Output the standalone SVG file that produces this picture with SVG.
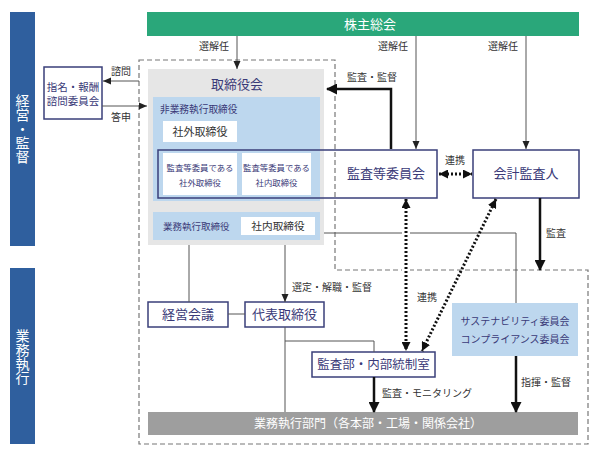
<svg xmlns="http://www.w3.org/2000/svg" width="600" height="455" viewBox="0 0 600 455">
<defs>
<style>
text{font-family:"Noto Sans CJK JP","Noto Sans",sans-serif;}
.lbl{font-size:10px;fill:#333;}
.node{font-size:13px;fill:#3a3a78;text-anchor:middle;}
.wt{fill:#fff;text-anchor:middle;}
.sm{font-size:10px;fill:#3a3a78;}
.thin{stroke:#555;stroke-width:1;fill:none;}
.thick{stroke:#111;stroke-width:2.5;fill:none;}
.dot{stroke:#111;stroke-width:3;stroke-dasharray:2 2;fill:none;}
.dash{stroke:#777;stroke-width:1.2;stroke-dasharray:5 3;fill:none;}
.box{fill:#fff;stroke:#3a3f7a;stroke-width:1.5;}
.wbox{fill:#fff;}
.lb{fill:#bdd7ee;}
</style>
<marker id="at" viewBox="0 0 8 8" refX="8" refY="4" markerWidth="8" markerHeight="8" markerUnits="userSpaceOnUse" orient="auto"><path d="M0,0.5 L8,4 L0,7.5z" fill="#222"/></marker>
<marker id="ak" viewBox="0 0 11 11" refX="10" refY="5.5" markerWidth="11" markerHeight="11" markerUnits="userSpaceOnUse" orient="auto"><path d="M0,0 L11,5.5 L0,11z" fill="#111"/></marker>
<marker id="ad" viewBox="0 0 9 9" refX="9" refY="4.5" markerWidth="9" markerHeight="9" markerUnits="userSpaceOnUse" orient="auto-start-reverse"><path d="M0,0 L9,4.5 L0,9z" fill="#111"/></marker>
</defs>
<rect width="600" height="455" fill="#fff"/>

<g id="side-management">
<rect x="10" y="12" width="25" height="234" fill="#2f5f9e"/>
<text x="22.5" y="129" class="wt" style="font-size:14px;writing-mode:vertical-rl">経営・監督</text>
</g>
<g id="side-execution">
<rect x="10" y="268" width="25" height="176" fill="#2f5f9e"/>
<text x="22.5" y="357" class="wt" style="font-size:14px;writing-mode:vertical-rl">業務執行</text>
</g>

<g id="shareholders">
<rect x="147" y="12" width="432" height="24" fill="#2aa77a"/>
<text x="370" y="29" class="wt" style="font-size:13px">株主総会</text>
</g>

<g id="board">
<rect x="148" y="69" width="176" height="176" fill="#e6e6e6"/>
<text x="237" y="89" class="node">取締役会</text>
<rect x="153" y="97" width="167" height="104" class="lb"/>
<text x="160" y="113" class="sm" style="font-size:9.7px">非業務執行取締役</text>
<rect x="163" y="121" width="74" height="21" class="wbox"/>
<text x="200" y="136" class="node" style="font-size:11px;fill:#333">社外取締役</text>
<rect x="163" y="153" width="74" height="42" class="wbox"/>
<text x="200" y="171" class="node" style="font-size:8.4px">監査等委員である</text>
<text x="200" y="186" class="node" style="font-size:8.4px">社外取締役</text>
<rect x="242" y="153" width="69" height="42" class="wbox"/>
<text x="276.5" y="171" class="node" style="font-size:8.4px">監査等委員である</text>
<text x="276.5" y="186" class="node" style="font-size:8.4px">社内取締役</text>
<rect x="153" y="212" width="167" height="28" class="lb"/>
<text x="163" y="230" class="sm" style="font-size:9.5px">業務執行取締役</text>
<rect x="241" y="217" width="74" height="18" class="wbox"/>
<text x="278" y="230" class="node" style="font-size:10.7px;fill:#333">社内取締役</text>
</g>

<g id="boundary">
<rect x="324" y="150" width="113" height="48" fill="#fff"/>
<path class="dash" d="M139,60 H335 V270 H588 V444 H139 Z"/>
</g>

<g id="audit-committee">
<rect x="158" y="150" width="279" height="48" fill="none" stroke="#3a3f7a" stroke-width="1.5"/>
<text x="386" y="178" class="node">監査等委員会</text>
</g>

<g id="accounting-auditor">
<rect x="473" y="150" width="106" height="48" class="box"/>
<text x="526" y="178" class="node">会計監査人</text>
</g>

<g id="nomination-committee">
<rect x="44" y="67" width="58" height="52" class="box"/>
<text x="73" y="91" class="node" style="font-size:10.5px">指名・報酬</text>
<text x="73" y="105" class="node" style="font-size:10.5px">諮問委員会</text>
</g>

<g id="management-meeting">
<rect x="148" y="302" width="80" height="25" class="box"/>
<text x="188" y="319" class="node">経営会議</text>
</g>

<g id="representative-director">
<rect x="245" y="302" width="79" height="25" class="box"/>
<text x="284.5" y="319" class="node">代表取締役</text>
</g>

<g id="internal-audit">
<rect x="312" y="352" width="123" height="25" class="box"/>
<text x="373.5" y="369" class="node" style="font-size:12.5px">監査部・内部統制室</text>
</g>

<g id="sustainability">
<rect x="452" y="303" width="126" height="53" class="lb"/>
<text x="515" y="325" class="node" style="font-size:10px">サステナビリティ委員会</text>
<text x="515" y="343" class="node" style="font-size:10px">コンプライアンス委員会</text>
</g>

<g id="business-divisions">
<rect x="148" y="412" width="430" height="23" fill="#9e9e9e"/>
<text x="368" y="428" class="wt" style="font-size:12px">業務執行部門（各本部・工場・関係会社）</text>
</g>

<g id="connectors">
<line class="thin" x1="237" y1="36" x2="237" y2="69" marker-end="url(#at)"/>
<line class="thin" x1="416" y1="36" x2="416" y2="149" marker-end="url(#at)"/>
<line class="thin" x1="526" y1="36" x2="526" y2="149" marker-end="url(#at)"/>
<polyline class="thick" points="391,149 391,89 327,89" marker-end="url(#ak)"/>
<line class="thin" x1="139" y1="81" x2="103" y2="81" marker-end="url(#at)"/>
<line class="thin" x1="102" y1="106" x2="147" y2="106" marker-end="url(#at)"/>
<polyline class="thin" points="324,233 516,233 516,303"/>
<line class="thin" x1="189" y1="245" x2="189" y2="302"/>
<line class="thin" x1="285" y1="245" x2="285" y2="302" marker-end="url(#at)"/>
<line class="thin" x1="228" y1="314" x2="245" y2="314"/>
<line class="thin" x1="285" y1="327" x2="285" y2="412"/>
<polyline class="thin" points="285,341 374,341 374,352"/>
<line class="thick" x1="540" y1="198" x2="540" y2="270" marker-end="url(#ak)"/>
<line class="thick" x1="374" y1="377" x2="374" y2="412" marker-end="url(#ak)"/>
<line class="thick" x1="516" y1="356" x2="516" y2="412" marker-end="url(#ak)"/>
<line x1="406" y1="210" x2="406" y2="340" stroke="#fff" stroke-width="8"/>
<line class="dot" x1="406" y1="199" x2="406" y2="351" marker-start="url(#ad)" marker-end="url(#ad)"/>
<line class="dot" x1="496" y1="199" x2="422" y2="351" marker-start="url(#ad)" marker-end="url(#ad)"/>
<line class="dot" x1="439" y1="174" x2="472" y2="174" marker-start="url(#ad)" marker-end="url(#ad)"/>
<text x="199" y="50" class="lbl">選解任</text>
<text x="378" y="50" class="lbl">選解任</text>
<text x="488" y="50" class="lbl">選解任</text>
<text x="347" y="81" class="lbl">監査・監督</text>
<text x="111" y="75" class="lbl">諮問</text>
<text x="111" y="121" class="lbl">答申</text>
<text x="445" y="164" class="lbl">連携</text>
<text x="546" y="237" class="lbl">監査</text>
<text x="292" y="291" class="lbl">選定・解職・監督</text>
<text x="417" y="301" class="lbl">連携</text>
<text x="382" y="397" class="lbl">監査・モニタリング</text>
<text x="521" y="386" class="lbl">指揮・監督</text>
</g>
</svg>
